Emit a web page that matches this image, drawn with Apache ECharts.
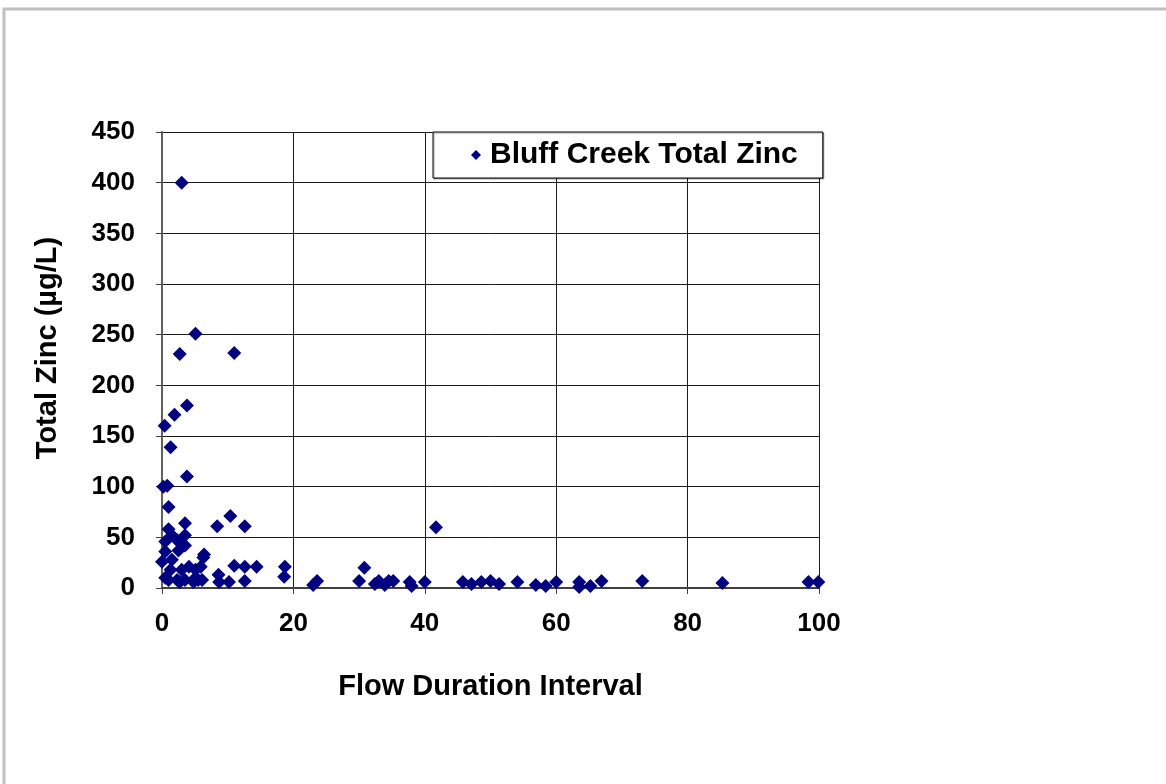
<!DOCTYPE html>
<html><head><meta charset="utf-8">
<script src="https://cdn.jsdelivr.net/npm/echarts@6/dist/echarts.min.js"></script>
<style>html,body{margin:0;padding:0;background:#fff}#c{width:1166px;height:784px}</style>
</head><body><div id="c"></div>
<script>
const seriesName = 'Bluff Creek Total Zinc';
const xTicks = [0, 20, 40, 60, 80, 100];
const yTicks = [0, 50, 100, 150, 200, 250, 300, 350, 400, 450];
const flowInterval = [
  3.0, 5.1, 2.7, 11.0, 3.8, 1.9, 0.4, 1.3, 3.8, 0.2, 0.8, 1.0,
  10.4, 8.4, 12.6, 3.5, 1.0, 1.5, 3.5, 0.5, 3.5, 2.3, 0.5, 2.5,
  6.3, 0.0, 1.5, 4.1, 5.1, 0.5, 2.3, 3.5, 5.1, 6.1, 1.3, 3.0,
  6.4, 5.9, 5.5, 8.6, 8.7, 10.2, 11.0, 12.6, 14.4, 12.6, 18.7, 18.6,
  23.0, 23.6, 30.8, 30.0, 32.4, 33.0, 33.9, 34.5, 35.2, 37.7, 38.0, 40.0,
  41.7, 45.8, 47.1, 48.6, 50.0, 51.3, 54.1, 56.9, 58.4, 60.0, 63.5, 63.5,
  65.2, 66.9, 73.1, 85.3, 98.4, 99.9, 1.0, 2.7, 4.8
];
const totalZinc = [
  400, 251, 231, 232, 180, 171, 160, 139, 110, 100, 101, 80,
  71, 61, 61, 64, 58, 52, 52, 46, 42, 47, 36, 37,
  30, 26, 28, 21, 18, 10, 8, 8, 10, 8, 18, 18,
  33, 21, 8, 13, 6, 6, 22, 21, 21, 7, 21, 11,
  3, 7, 20, 7, 4, 7, 3, 7, 7, 6, 2, 6,
  60, 6, 4, 6, 7, 4, 6, 3, 2, 6, 6, 1,
  2, 7, 7, 5, 6, 6, 8, 6, 6
];
const points = flowInterval.map((x, i) => [x, totalZinc[i]]);

const FONT = 'Liberation Sans, Arial, sans-serif';
const chart = echarts.init(document.getElementById('c'), null, {renderer: 'canvas'});
const tickFont = {fontFamily: FONT, fontWeight: 'bold', fontSize: 26, color: '#000'};
chart.setOption({
  animation: false,
  backgroundColor: '#fff',
  graphic: [{
    type: 'rect', shape: {x: 4, y: 9, width: 1200, height: 820},
    style: {fill: 'none', stroke: '#c0c0c0', lineWidth: 3}, silent: true, z: -1
  }],
  grid: {left: 162, top: 132, width: 657, height: 456, containLabel: false},
  legend: {
    data: [{name: seriesName, icon: 'diamond'}],
    left: 433, top: 132,
    itemWidth: 10, itemHeight: 10, itemGap: 0,
    padding: [8, 25, 8, 38],
    backgroundColor: '#fff', borderColor: '#000', borderWidth: 1,
    shadowColor: 'rgba(0,0,0,0.35)', shadowOffsetX: 1, shadowOffsetY: 1, shadowBlur: 0,
    textStyle: {fontFamily: FONT, fontWeight: 'bold', fontSize: 30, lineHeight: 30, color: '#000', padding: [0, 0, 0, 4]}
  },
  xAxis: {
    type: 'value', min: xTicks[0], max: xTicks[xTicks.length - 1], interval: 20,
    name: 'Flow Duration Interval', nameLocation: 'middle', nameGap: 84,
    nameTextStyle: {fontFamily: FONT, fontWeight: 'bold', fontSize: 29, color: '#000'},
    axisLine: {show: true, onZero: false, lineStyle: {color: '#404040', width: 2}},
    axisTick: {show: true, length: 6, lineStyle: {color: '#404040'}},
    axisLabel: Object.assign({margin: 23}, tickFont),
    splitLine: {show: true, lineStyle: {color: '#1a1a1a', width: 1}}
  },
  yAxis: {
    type: 'value', min: yTicks[0], max: yTicks[yTicks.length - 1], interval: 50,
    name: 'Total Zinc (µg/L)', nameLocation: 'middle', nameGap: 100, nameRotate: 90,
    nameTextStyle: {fontFamily: FONT, fontWeight: 'bold', fontSize: 29, color: '#000', padding: [0, 0, 0, 24]},
    axisLine: {show: true, onZero: false, lineStyle: {color: '#606060', width: 2}},
    axisTick: {show: true, length: 6, lineStyle: {color: '#404040'}},
    axisLabel: Object.assign({margin: 27}, tickFont),
    splitLine: {show: true, lineStyle: {color: '#1a1a1a', width: 1}}
  },
  series: [{
    name: seriesName, type: 'scatter', symbol: 'diamond', symbolSize: 14,
    itemStyle: {color: '#000080', opacity: 1},
    data: points, z: 3
  }]
});
</script></body></html>
